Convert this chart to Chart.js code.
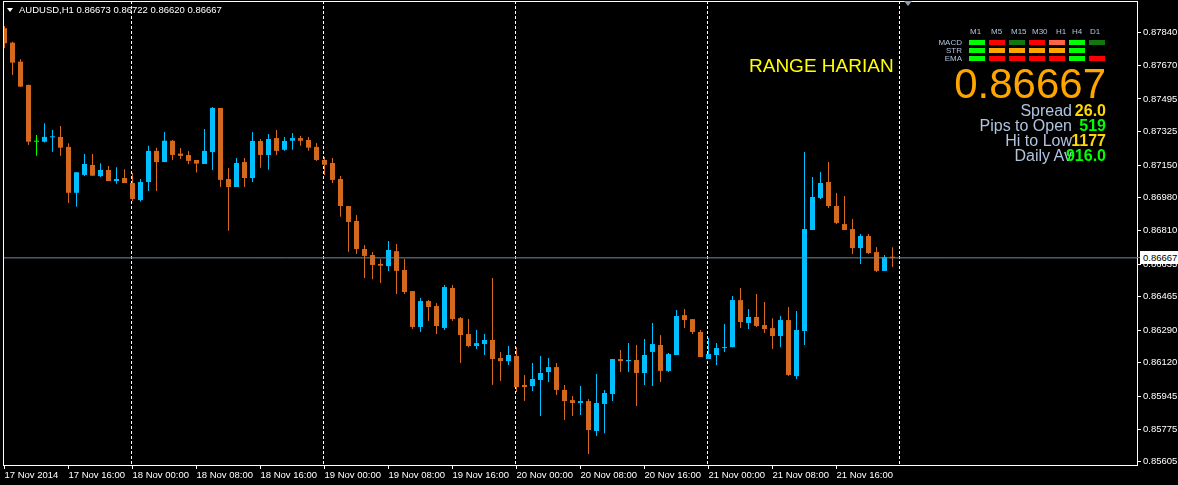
<!DOCTYPE html>
<html><head><meta charset="utf-8">
<script src="https://cdn.jsdelivr.net/npm/chart.js@4.4.1/dist/chart.umd.min.js"></script>
<style>
html,body{margin:0;padding:0;background:#000;overflow:hidden}
#wrap{position:relative;width:1178px;height:485px;background:#000}
canvas{position:absolute;left:0;top:0}
.t{position:absolute;white-space:nowrap;font-family:'Liberation Sans',Arial,sans-serif;line-height:1}
.box{position:absolute;width:16px;height:5px}
</style></head>
<body><div id="wrap"><canvas id="c" width="1178" height="485"></canvas></div>
<script>
// ---------- data ----------
const symbol = 'AUDUSD';
const period = 'H1';
const opens = [0.87863,0.87788,0.87689,0.87568,0.87272,0.87272,0.87295,0.87297,0.87245,0.87006,
0.87099,0.87151,0.87093,0.87125,0.87067,0.87083,0.87057,0.86968,0.87062,0.87224,
0.87166,0.87277,0.87210,0.87203,0.87177,0.87156,0.87218,0.87448,0.87078,0.87036,
0.87166,0.87083,0.87276,0.87203,0.87291,0.87230,0.87277,0.87291,0.87281,0.87245,
0.87177,0.87161,0.87078,0.86937,0.86859,0.86713,0.86682,0.86635,0.86624,0.86702,
0.86604,0.86494,0.86307,0.86442,0.86416,0.86302,0.86510,0.86353,0.86270,0.86208,
0.86218,0.86239,0.86145,0.86129,0.86156,0.86005,0.85999,0.86031,0.86072,0.86098,
0.85979,0.85926,0.85911,0.85921,0.85765,0.85906,0.85958,0.86140,0.86129,0.86135,
0.86067,0.86177,0.86213,0.86078,0.86161,0.86369,0.86348,0.86281,0.86140,0.86161,
0.86197,0.86202,0.86447,0.86328,0.86359,0.86317,0.86301,0.86260,0.86343,0.86051,
0.86286,0.86812,0.86979,0.87062,0.86937,0.86843,0.86817,0.86718,0.86781,0.86697,
0.86599,0.86673];
const highs = [0.87875,0.87793,0.87701,0.87569,0.87307,0.87368,0.87333,0.87354,0.87264,0.87113,
0.87208,0.87208,0.87160,0.87146,0.87139,0.87128,0.87109,0.87078,0.87251,0.87241,
0.87323,0.87281,0.87239,0.87224,0.87177,0.87338,0.87453,0.87448,0.87135,0.87187,
0.87187,0.87323,0.87286,0.87312,0.87333,0.87297,0.87318,0.87302,0.87297,0.87265,
0.87192,0.87187,0.87093,0.86937,0.86890,0.86734,0.86697,0.86661,0.86755,0.86739,
0.86661,0.86494,0.86458,0.86447,0.86432,0.86526,0.86526,0.86359,0.86348,0.86291,
0.86270,0.86562,0.86177,0.86208,0.86202,0.86057,0.86119,0.86156,0.86145,0.86119,
0.86005,0.85947,0.85999,0.85932,0.86062,0.85979,0.86140,0.86187,0.86223,0.86213,
0.86244,0.86328,0.86265,0.86171,0.86395,0.86400,0.86348,0.86291,0.86250,0.86223,
0.86322,0.86468,0.86510,0.86400,0.86479,0.86437,0.86353,0.86364,0.86411,0.86390,
0.87218,0.87088,0.87114,0.87166,0.87005,0.86989,0.86869,0.86791,0.86791,0.86723,
0.86682,0.86722];
const lows = [0.87759,0.87620,0.87557,0.87255,0.87199,0.87268,0.87220,0.87199,0.86953,0.86933,
0.87094,0.87095,0.87088,0.87067,0.87053,0.87057,0.86963,0.86960,0.87015,0.87015,
0.87166,0.87177,0.87182,0.87154,0.87111,0.87156,0.87125,0.87036,0.86808,0.87036,
0.87036,0.87062,0.87137,0.87126,0.87203,0.87225,0.87230,0.87251,0.87225,0.87172,
0.87099,0.87057,0.86881,0.86699,0.86687,0.86562,0.86556,0.86536,0.86599,0.86479,
0.86479,0.86296,0.86281,0.86338,0.86270,0.86291,0.86338,0.86119,0.86202,0.86192,
0.86161,0.86005,0.86025,0.86109,0.85968,0.85921,0.85973,0.85843,0.86020,0.85953,
0.85822,0.85843,0.85848,0.85645,0.85739,0.85754,0.85921,0.86072,0.86072,0.85895,
0.86005,0.85999,0.86020,0.86072,0.86161,0.86301,0.86270,0.86150,0.86140,0.86109,
0.86177,0.86202,0.86301,0.86296,0.86307,0.86275,0.86192,0.86202,0.86051,0.86036,
0.86213,0.86812,0.86973,0.86927,0.86843,0.86812,0.86687,0.86635,0.86687,0.86593,
0.86599,0.86620];
const closes = [0.87785,0.87684,0.87559,0.87272,0.87272,0.87297,0.87297,0.87241,0.87006,0.87113,
0.87156,0.87095,0.87125,0.87067,0.87078,0.87057,0.86974,0.87062,0.87224,0.87166,
0.87277,0.87203,0.87198,0.87172,0.87158,0.87224,0.87448,0.87073,0.87036,0.87161,
0.87083,0.87276,0.87203,0.87286,0.87224,0.87276,0.87291,0.87277,0.87241,0.87177,
0.87152,0.87073,0.86937,0.86854,0.86713,0.86677,0.86630,0.86626,0.86708,0.86599,
0.86489,0.86307,0.86442,0.86411,0.86312,0.86515,0.86348,0.86265,0.86208,0.86223,
0.86239,0.86140,0.86129,0.86161,0.85994,0.85994,0.86036,0.86067,0.86098,0.85979,
0.85921,0.85911,0.85921,0.85770,0.85911,0.85963,0.86140,0.86129,0.86135,0.86067,
0.86161,0.86218,0.86078,0.86166,0.86364,0.86343,0.86281,0.86150,0.86166,0.86197,
0.86202,0.86447,0.86333,0.86359,0.86312,0.86296,0.86260,0.86343,0.86057,0.86291,
0.86817,0.86984,0.87057,0.86937,0.86849,0.86812,0.86718,0.86781,0.86692,0.86599,
0.86671,0.86667];
const xTickIndex = [0,8,16,24,32,40,48,56,64,72,80,88,96,104];
const xTickLabels = ['17 Nov 2014','17 Nov 16:00','18 Nov 00:00','18 Nov 08:00','18 Nov 16:00',
'19 Nov 00:00','19 Nov 08:00','19 Nov 16:00','20 Nov 00:00','20 Nov 08:00','20 Nov 16:00',
'21 Nov 00:00','21 Nov 08:00','21 Nov 16:00'];
const daySeparators = [16,40,64,88,112];
const yTickValues = [0.87840,0.87670,0.87495,0.87325,0.87150,0.86980,0.86810,0.86635,
0.86465,0.86290,0.86120,0.85945,0.85775,0.85605];
const timeframes = ['M1','M5','M15','M30','H1','H4','D1'];
const signalRows = ['MACD','STR','EMA'];
const signalColors = [
  ['#00FF00','#FF0000','#117711','#FF0000','#FF6347','#00FF00','#117711'],
  ['#00FF00','#FFA500','#FFA500','#FFA500','#FFA500','#00FF00',null],
  ['#00FF00','#FF0000','#FF0000','#FF0000','#FF0000','#00FF00','#FF0000']
];
const statLabels = ['Spread','Pips to Open','Hi to Low','Daily Av'];
const statValues = ['26.0','519','1177','916.0'];
const statColors = ['#FFD700','#00FF00','#FFD700','#00FF00'];
const panelTitle = 'RANGE HARIAN';

// ---------- styles / layout ----------
const UP = '#00BFFF', DOWN = '#D2691E', DOJI = '#00FF00';
const X_MIN = -0.1875, X_MAX = 141.5625;
const Y_MIN = 0.85588, Y_MAX = 0.88005;
const FONT = "'Liberation Sans', Arial, sans-serif";
Chart.defaults.font.family = FONT;
Chart.defaults.color = '#fff';

const n = closes.length;
const last = n - 1;
const colors = closes.map((c,i)=> c > opens[i] ? UP : (c < opens[i] ? DOWN : DOJI));
const wickData = closes.map((c,i)=>({x:i, y:[lows[i], highs[i]]}));
const bodyData = closes.map((c,i)=>({x:i, y:[opens[i], c]}));

const wrap = document.getElementById('wrap');
function addText(txt, left, top, size, color, extra){
  const d = document.createElement('div');
  d.className = 't'; d.textContent = txt;
  d.style.fontSize = size + 'px'; d.style.color = color;
  if (left !== null) d.style.left = left + 'px';
  d.style.top = top + 'px';
  if (extra) Object.assign(d.style, extra);
  wrap.appendChild(d); return d;
}

// price label (positioned from the scale after render)
const priceTag = addText(closes[last].toFixed(5), 1140, 0, 9.5, '#000',
  {background:'#fff', width:'35px', height:'13px', lineHeight:'13px', paddingLeft:'3px'});
const priceStub = document.createElement('div');
Object.assign(priceStub.style,{position:'absolute',left:'1137px',width:'3px',height:'1px',background:'#778899'});
wrap.appendChild(priceStub);

const mtPlugin = {
  id:'mt',
  beforeDatasetsDraw(chart){
    const {ctx, chartArea:a, scales:{x}} = chart;
    ctx.save();
    ctx.strokeStyle = '#fff'; ctx.lineWidth = 1; ctx.setLineDash([3,2]);
    daySeparators.forEach(i=>{
      const px = Math.floor(x.getPixelForValue(i)) - 0.5;
      ctx.beginPath(); ctx.moveTo(px, a.top); ctx.lineTo(px, a.bottom); ctx.stroke();
    });
    ctx.restore();
  },
  afterDraw(chart){
    const {ctx, chartArea:a} = chart;
    ctx.save();
    ctx.strokeStyle = '#fff'; ctx.lineWidth = 1;
    ctx.strokeRect(a.left + 0.5, a.top + 0.5, a.right - a.left, a.bottom - a.top);
    ctx.restore();
  },
  afterRender(chart){
    const py = chart.scales.y.getPixelForValue(closes[last]);
    priceTag.style.top = Math.round(py - 6.5) + 'px';
    priceStub.style.top = Math.floor(py) + 'px';
  }
};

new Chart(document.getElementById('c'), {
  type:'bar',
  data:{datasets:[
    {type:'line', data:[{x:X_MIN,y:closes[last]},{x:X_MAX,y:closes[last]}], borderColor:'#778899',
     borderWidth:1, pointRadius:0, order:0},
    {type:'bar', data:bodyData, backgroundColor:colors, barThickness:5, grouped:false,
     minBarLength:1, borderWidth:0, inflateAmount:0, order:1},
    {type:'bar', data:wickData, backgroundColor:colors, barThickness:1, grouped:false,
     borderWidth:0, inflateAmount:0, order:2}
  ]},
  options:{
    responsive:false, animation:false, events:[],
    layout:{padding:{left:3, top:1, right:0, bottom:0}},
    plugins:{legend:{display:false}, tooltip:{enabled:false}},
    scales:{
      x:{type:'linear', position:'bottom', min:X_MIN, max:X_MAX, offset:false,
        afterFit(s){ s.height = 20; s.paddingLeft = 0; s.paddingRight = 0; },
        afterBuildTicks(s){ s.ticks = xTickIndex.map(v=>({value:v})); },
        ticks:{autoSkip:false, maxRotation:0, minRotation:0, align:'start', padding:1,
          color:'#fff', font:{size:9.5},
          callback:(v)=>{ const k = xTickIndex.indexOf(v); return k >= 0 ? xTickLabels[k] : ''; }},
        grid:{display:true, drawOnChartArea:false, drawTicks:true, tickLength:4, color:'#fff', offset:false},
        border:{display:false}},
      y:{type:'linear', position:'right', min:Y_MIN, max:Y_MAX,
        afterFit(s){ s.width = 41; s.paddingTop = 0; s.paddingBottom = 0; },
        afterBuildTicks(s){ s.ticks = yTickValues.map(v=>({value:v})); },
        ticks:{autoSkip:false, padding:2, color:'#fff', font:{size:9.5},
          callback:(v)=> Number(v).toFixed(5)},
        grid:{display:true, drawOnChartArea:false, drawTicks:true, tickLength:4, color:'#fff'},
        border:{display:false}}
    }
  },
  plugins:[mtPlugin]
});

// ---------- overlay texts ----------
// top-left header
const tri = document.createElement('div');
Object.assign(tri.style,{position:'absolute',left:'7px',top:'8px',width:0,height:0,
  borderLeft:'3.5px solid transparent',borderRight:'3.5px solid transparent',borderTop:'4px solid #fff'});
wrap.appendChild(tri);
addText(symbol + ',' + period + ' ' + [opens[last],highs[last],lows[last],closes[last]].map(v=>v.toFixed(5)).join(' '),
  19, 4.5, 9.5, '#fff');
// chart shift marker
const shift = document.createElement('div');
Object.assign(shift.style,{position:'absolute',left:'904px',top:'1px',width:0,height:0,
  borderLeft:'4.5px solid transparent',borderRight:'4.5px solid transparent',borderTop:'5px solid #8F9AAE'});
wrap.appendChild(shift);

addText(panelTitle, 749, 55.5, 19, '#FFFF00');

// signal panel
const tfLeft = [970, 991, 1011, 1032, 1056, 1072, 1090];
const boxLeft = [969, 989, 1009, 1029, 1049, 1069, 1089];
const rowTop = [40, 48, 56];
const LBL = '#B0C4DE';
timeframes.forEach((tf,i)=> addText(tf, tfLeft[i], 28.3, 8, LBL));
signalRows.forEach((r,j)=>{
  addText(r, null, rowTop[j] - 1.5, 8, LBL, {right:(1178-962)+'px', textAlign:'right'});
  signalColors[j].forEach((c,i)=>{
    if (!c) return;
    const b = document.createElement('div'); b.className = 'box';
    b.style.left = boxLeft[i] + 'px'; b.style.top = rowTop[j] + 'px'; b.style.background = c;
    wrap.appendChild(b);
  });
});
addText(closes[last].toFixed(5), null, 62.7, 42, '#FFA500', {right:(1178-1106)+'px'});
const statCenter = [110.7, 126.2, 141.3, 155.8];
statLabels.forEach((s,i)=>{
  addText(s, null, statCenter[i] - 8, 16, LBL, {right:(1178-1072)+'px'});
  addText(statValues[i], null, statCenter[i] - 8, 16, statColors[i], {right:(1178-1106)+'px', fontWeight:'bold'});
});
</script>
</body></html>
